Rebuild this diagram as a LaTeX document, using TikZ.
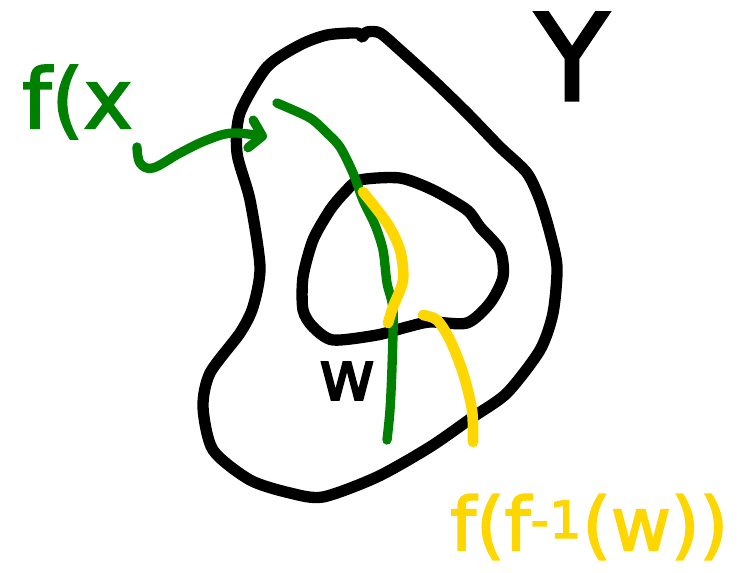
\documentclass[tikz,border=0pt]{standalone}
\usepackage{fontspec}
\setmainfont{DejaVu Sans}
\newfontfamily\handfont[FakeBold=2.5]{DejaVu Sans}
\usepackage{xcolor}
\usepackage{tikz}
\usetikzlibrary{arrows.meta}
\definecolor{inkGreen}{HTML}{008000}
\definecolor{inkGold}{HTML}{FFD700}

\begin{document}
\begin{tikzpicture}[
  x=0.75pt, y=-0.75pt,
  ink/.style={line width=8.5pt, line cap=round, line join=round},
  greenInk/.style={ink, inkGreen, line width=7pt},
  goldInk/.style={ink, inkGold, line width=8pt},
  arr/.style={greenInk, -{Straight Barb[length=9pt,width=21pt,round]}},
  lbl/.style={inner sep=0pt, anchor=base, font=\handfont}
]
  \useasboundingbox (0,0) rectangle (743,573);

  % Y: the big blob
  \draw[ink] plot[smooth cycle, tension=0.45] coordinates {
    (357,33) (362,37) (367,32) (380,33) (400,50) (433,80) (467,113)
    (493,140) (503,150) (527,173) (540,200) (550,233) (557,267)
    (553,313) (540,350) (507,393) (473,417) (430,447) (377,477)
    (323,497) (290,493) (250,480) (213,450) (203,407) (210,373)
    (240,333) (253,307) (260,267) (250,200) (237,153) (240,113)
    (267,67) (300,45) (327,35)};

  % W: the inner blob
  \draw[ink] plot[smooth cycle, tension=0.45] coordinates {
    (360,180) (400,178) (433,190) (467,210) (480,227) (500,250)
    (503,277) (490,303) (467,323) (430,322) (407,327) (377,335)
    (333,340) (313,327) (303,310) (303,277) (313,240) (330,210)
    (345,192)};

  % image of X
  \draw[greenInk] plot[smooth, tension=0.5] coordinates {
    (277,103) (300,113) (313,120) (327,133) (340,147) (353,173)
    (363,200) (375,225) (383,250) (387,283) (393,310) (392,367)
    (390,410) (387,440)};

  % its part inside W
  \draw[goldInk] plot[smooth, tension=0.5] coordinates {
    (363,192) (387,223) (400,250) (403,280) (393,307) (388,323)};
  \draw[goldInk] plot[smooth, tension=0.5] coordinates {
    (423,315) (437,320) (450,340) (463,373) (472,410) (473,442)};

  % labels
  \node[lbl, text=inkGreen, anchor=base west] (fx) at (22,128)
    {\fontsize{62}{62}\selectfont f(x};
  \node[lbl] (Ylab) at (572,100) {\fontsize{90}{90}\selectfont Y};
  \node[lbl] (Wlab) at (347,400) {\fontsize{52}{52}\selectfont w};
  \node[lbl, text=inkGold, anchor=base west] (ffw) at (450,550)
    {\fontsize{55}{55}\selectfont f(f\textsuperscript{-1}(w))};

  % arrow from the label to the curve
  \draw[arr] plot[smooth, tension=0.6] coordinates {
    (137,147) (140,163) (153,168) (180,153) (207,140) (233,133) (267,137)};
\end{tikzpicture}
\end{document}
